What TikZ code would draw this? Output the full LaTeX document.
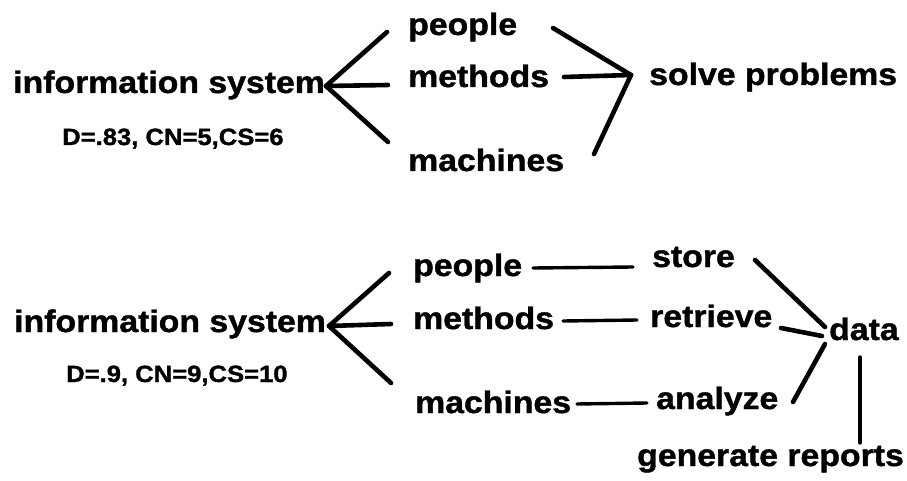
\documentclass[tikz,border=0pt]{standalone}
\usepackage{fontspec}
\newfontfamily\labfont[FakeStretch=1.09,FakeBold=1.3]{Liberation Sans Bold}
\begin{document}
\begin{tikzpicture}[x=1pt,y=-1pt,
  lab/.style={anchor=base west, inner sep=0pt, font=\labfont\fontsize{31}{36}\selectfont},
  smalllab/.style={anchor=base west, inner sep=0pt, font=\labfont\fontsize{23.5}{28}\selectfont},
  ln/.style={line width=4.6pt, line cap=round},
  hl/.style={line width=3.4pt, line cap=round}]
\useasboundingbox (0,0) rectangle (907,481);
% ---------- top diagram ----------
\node[lab] (is1) at (13,93) {information system};
\node[smalllab] (d1) at (62,145) {D=.83, CN=5,CS=6};
\node[lab] (p1) at (408,35) {people};
\node[lab] (m1) at (408,87) {methods};
\node[lab] (ma1) at (408,171) {machines};
\node[lab] (sp) at (649,85) {solve problems};
\coordinate (j1) at (326,86);
\coordinate (j1a) at (387,32);
\coordinate (j1b) at (388,85);
\coordinate (j1c) at (388,142);
\draw[ln] (j1) -- (j1a);
\draw[ln] (j1) -- (j1b);
\draw[ln] (j1) -- (j1c);
\coordinate (k1) at (631,75);
\coordinate (k1a) at (553,28);
\coordinate (k1b) at (564,77);
\coordinate (k1c) at (594,154);
\draw[ln] (k1a) -- (k1);
\draw[ln] (k1b) -- (k1);
\draw[ln] (k1c) -- (k1);
% ---------- bottom diagram ----------
\node[lab] (is2) at (14,332) {information system};
\node[smalllab] (d2) at (66,382) {D=.9, CN=9,CS=10};
\node[lab] (p2) at (413,276) {people};
\node[lab] (m2) at (413,329) {methods};
\node[lab] (ma2) at (415,413) {machines};
\node[lab] (st) at (652,267) {store};
\node[lab] (rt) at (650,327) {retrieve};
\node[lab] (an) at (656,409) {analyze};
\node[lab] (da) at (829,340) {data};
\node[lab] (gr) at (637,466) {generate reports};
\coordinate (j2) at (329,326);
\coordinate (j2a) at (389,273);
\coordinate (j2b) at (391,324);
\coordinate (j2c) at (391,383);
\draw[ln] (j2) -- (j2a);
\draw[ln] (j2) -- (j2b);
\draw[ln] (j2) -- (j2c);
\coordinate (h1a) at (533,268);
\coordinate (h1b) at (633,267);
\coordinate (h2a) at (563,321);
\coordinate (h2b) at (637,320);
\coordinate (h3a) at (577,404);
\coordinate (h3b) at (647,403);
\draw[hl] (h1a) -- (h1b);
\draw[hl] (h2a) -- (h2b);
\draw[hl] (h3a) -- (h3b);
\coordinate (s1) at (755,260);
\coordinate (s1e) at (825,327);
\coordinate (r1) at (781,328);
\coordinate (r1e) at (822,336);
\coordinate (a1) at (793,402);
\coordinate (a1e) at (825,344);
\draw[ln] (s1) -- (s1e);
\draw[ln] (r1) -- (r1e);
\draw[ln] (a1) -- (a1e);
\coordinate (v1) at (860,357);
\coordinate (v2) at (860,443);
\draw[hl] (v1) -- (v2);
\end{tikzpicture}
\end{document}
